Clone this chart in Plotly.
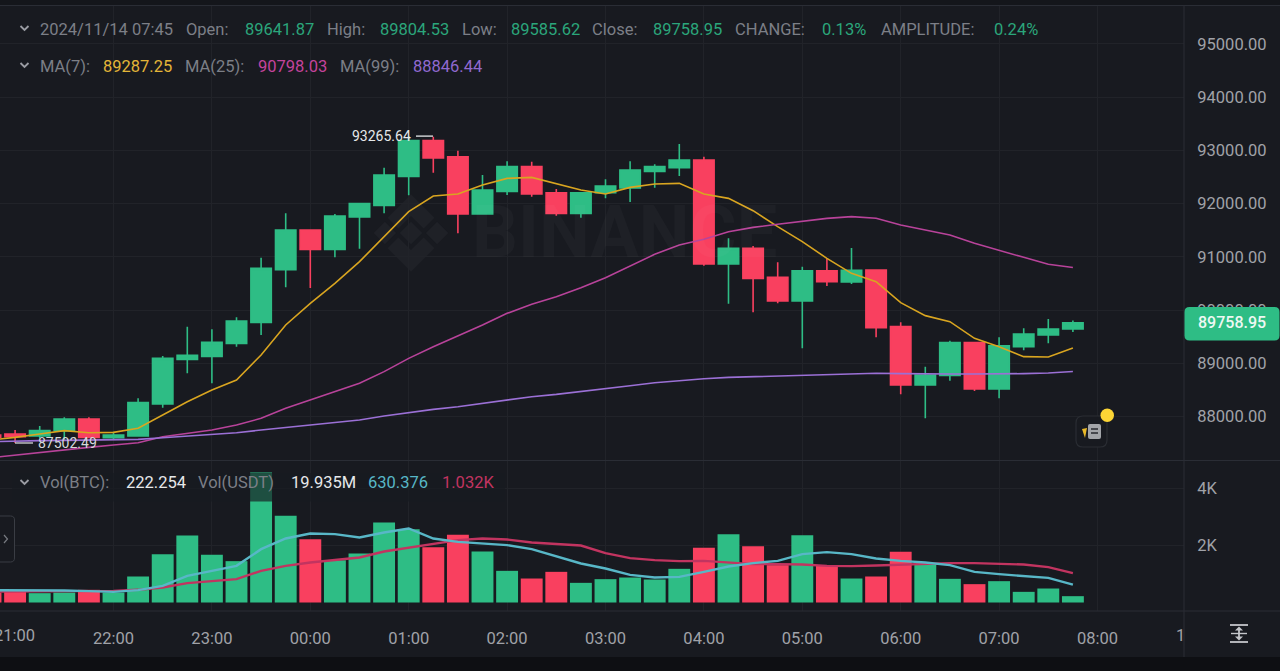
import pandas as pd
import plotly.graph_objects as go

times = pd.date_range("2024-11-13 20:45", periods=45, freq="15min")

open_ = [87650,87671,87633,87734,87953,87602,87633,88234,89073,89130,89374,89768,90757,91502,91139,91746,91965,92510,93180,92879,91803,92228,92692,92203,91815,92203,92291,92604,92673,92817,90864,91158,90613,90169,90738,90526,90751,89687,88592,88773,89387,88517,89312,89531,89641.87]
high = [87670,87746,87821,87984,87984,87715,88341,89136,89687,89637,89862,90983,91815,91502,91803,91997,92673,93265.64,93255,92992,92535,92792,92786,92272,92203,92454,92792,92735,93117,92879,91346,91202,90895,90814,90970,91164,90751,89769,88936,89424,89387,89487,89656,89831,89804.53]
low = [87590,87502.49,87590,87558,87590,87558,87621,88166,88810,88623,89311,89530,90425,90413,90989,91152,91815,92153,92579,91440,91803,92160,92128,91771,91734,92097,92028,92297,92516,90832,90119,89956,90125,89280,90450,90488,89487,88416,87966,88673,88479,88341,89243,89374,89585.62]
close = [87610,87621,87734,87953,87608,87652,88260,89092,89148,89392,89793,90782,91502,91139,91765,91997,92535,93180,92854,91803,92253,92692,92178,91815,92203,92328,92629,92692,92817,90864,91158,90594,90169,90738,90532,90745,89668,88592,88780,89387,88517,89330,89550,89643,89758.95]

ma7 = [87560,87608,87671,87734,87696,87702,87778,88028,88278,88497,88685,89155,89718,90125,90501,90908,91377,91847,92141,92178,92347,92472,92491,92366,92253,92178,92303,92366,92379,92178,92097,91865,91565,91283,90970,90688,90532,90138,89894,89781,89468,89312,89124,89117,89287.25]
ma25 = [87225,87277,87327,87371,87421,87465,87508,87621,87684,87746,87840,87965,88153,88310,88466,88623,88842,89092,89311,89512,89718,89937,90106,90250,90419,90607,90832,91045,91220,91327,91471,91552,91609,91671,91721,91753,91722,91597,91503,91409,91252,91127,90989,90858,90798.03]
ma99 = [87525,87539,87546,87552,87558,87565,87571,87602,87633,87665,87696,87746,87796,87840,87884,87934,88009,88078,88134,88184,88247,88310,88372,88416,88466,88522,88579,88635,88679,88710,88735,88748,88760,88773,88792,88798,88811,88805,88798,88798,88798,88798,88805,88817,88846.44]

volume = [350,374,328,350,445,350,913,1697,2352,1673,1451,4560,3042,2223,1486,1720,2808,2574,1942,2375,1790,1111,842,1076,690,819,877,807,1182,1919,2398,1977,1310,2363,1310,842,913,1778,1334,831,644,749,374,491,222.254]
vol_ma_short = [433,433,433,421,398,374,433,585,936,1111,1287,1872,2246,2422,2398,2281,2457,2597,2246,2129,2083,2012,1872,1615,1369,1193,971,877,901,1076,1264,1381,1462,1696,1767,1696,1544,1462,1404,1310,1076,994,936,866,630.376]
vol_ma_long = [380,386,398,409,409,409,445,526,679,760,819,1111,1287,1404,1486,1579,1790,1930,2047,2188,2246,2211,2106,2059,2000,1732,1556,1486,1451,1462,1404,1345,1345,1334,1287,1275,1299,1334,1369,1381,1381,1369,1334,1240,1032]

hour_ticks = pd.date_range("2024-11-13 22:00", periods=11, freq="1h")
hour_labels = ["22:00","23:00","00:00","01:00","02:00","03:00","04:00","05:00","06:00","07:00","08:00"]
price_ticks = [88000,89000,90000,91000,92000,93000,94000,95000]
vol_ticks = [2000,4000]
vol_tick_labels = ["2K","4K"]

BG = "#181a20"
GRID = "#212329"
SEP = "#2a2d35"
GREEN = "#2ebd85"
RED = "#f9405f"
GRAY = "#7c7f87"
TICK = "#a0a2a8"
TXTGREEN = "#2ba67b"
FONT = "Roboto"
FS = 16.5

L1 = [("2024/11/14 07:45",40,GRAY),("Open:",186,GRAY),("89641.87",245,TXTGREEN),("High:",327,GRAY),("89804.53",380,TXTGREEN),
      ("Low:",462,GRAY),("89585.62",511,TXTGREEN),("Close:",592,GRAY),("89758.95",653,TXTGREEN),("CHANGE:",735,GRAY),
      ("0.13%",822,TXTGREEN),("AMPLITUDE:",881,GRAY),("0.24%",994,TXTGREEN)]
L2 = [("MA(7):",40,GRAY),("89287.25",103,"#e3b538"),("MA(25):",185,GRAY),("90798.03",258,"#c4439c"),("MA(99):",340,GRAY),("88846.44",413,"#9069cf")]
L3 = [("Vol(BTC):",40,GRAY),("222.254",126,"#e6e8ea"),("Vol(USDT)",198,GRAY),("19.935M",291,"#e6e8ea"),("630.376",368,"#58b7c7"),("1.032K",442,"#c23460")]

W, H = 1184.0, 606.0
def px(x): return x / W
def py(y): return (611 - y) / H
def path(points, close=True):
    s = "M" + " L".join(f"{px(x):.5f},{py(y):.5f}" for x, y in points)
    return s + (" Z" if close else "")
def rrect(x0, y0, x1, y1, r):
    P = lambda x, y: f"{px(x):.5f},{py(y):.5f}"
    return (f"M{P(x0+r,y0)} L{P(x1-r,y0)} Q{P(x1,y0)} {P(x1,y0+r)} L{P(x1,y1-r)} Q{P(x1,y1)} {P(x1-r,y1)} "
            f"L{P(x0+r,y1)} Q{P(x0,y1)} {P(x0,y1-r)} L{P(x0,y0+r)} Q{P(x0,y0)} {P(x0+r,y0)} Z")

fig = go.Figure()
fig.add_trace(go.Candlestick(x=times, open=open_, high=high, low=low, close=close, xaxis="x", yaxis="y",
    increasing=dict(line=dict(color=GREEN, width=1.6), fillcolor=GREEN),
    decreasing=dict(line=dict(color=RED, width=1.6), fillcolor=RED),
    whiskerwidth=0, showlegend=False, hoverinfo="skip"))
for vals, col, w in [(ma7, "#d9a520", 1.6), (ma25, "#b8439a", 1.6), (ma99, "#9b70d6", 1.6)]:
    fig.add_trace(go.Scatter(x=times, y=vals, mode="lines", line=dict(color=col, width=w), xaxis="x", yaxis="y",
                             showlegend=False, hoverinfo="skip"))
bar_colors = [GREEN if c >= o else RED for o, c in zip(open_, close)]
fig.add_trace(go.Bar(x=times, y=volume, marker=dict(color=bar_colors, line=dict(width=0)), width=15*60*1000*0.89,
                     xaxis="x", yaxis="y2", showlegend=False, hoverinfo="skip"))
fig.add_trace(go.Scatter(x=times, y=vol_ma_long, mode="lines", line=dict(color="#c23460", width=2.4), xaxis="x", yaxis="y2",
                         showlegend=False, hoverinfo="skip"))
fig.add_trace(go.Scatter(x=times, y=vol_ma_short, mode="lines", line=dict(color="#58b7c7", width=2.4), xaxis="x", yaxis="y2",
                         showlegend=False, hoverinfo="skip"))

shapes = []
shapes.append(dict(type="rect", xref="paper", yref="paper", x0=0, x1=px(1280), y0=py(0), y1=py(5), fillcolor="#14161b", line_width=0, layer="above"))
shapes.append(dict(type="rect", xref="paper", yref="paper", x0=0, x1=px(1280), y0=py(657), y1=py(671), fillcolor="#0e0f13", line_width=0, layer="above"))
for (x0, y0, x1, y1) in [(0,5.5,1280,5.5),(1184,5,1184,657),(0,460.5,1280,460.5),(0,611,1280,611)]:
    shapes.append(dict(type="line", xref="paper", yref="paper", x0=px(x0), x1=px(x1), y0=py(y0), y1=py(y1), line=dict(color=SEP, width=1), layer="above"))
# semi-transparent backing of the volume legend
shapes.append(dict(type="rect", xref="paper", yref="paper", x0=px(12), x1=px(505), y0=py(473), y1=py(501.5), fillcolor="rgba(24,26,32,0.68)", line_width=0, layer="above"))
# watermark logo
WM = "#1f2127"
cx, cy, u = 411, 233, 9
def diamond(x, y, r): return [(x, y-r), (x+r, y), (x, y+r), (x-r, y)]
for d in [diamond(cx, cy, 1.25*u), diamond(cx-2.9*u, cy, 1.25*u), diamond(cx+2.9*u, cy, 1.25*u)]:
    shapes.append(dict(type="path", xref="paper", yref="paper", path=path(d), fillcolor=WM, line_width=0, layer="below"))
for s in (-1, 1):
    chev = [(cx, cy+s*4.3*u), (cx+2.6*u, cy+s*1.7*u), (cx+1.4*u, cy+s*0.5*u), (cx, cy+s*1.9*u), (cx-1.4*u, cy+s*0.5*u), (cx-2.6*u, cy+s*1.7*u)]
    shapes.append(dict(type="path", xref="paper", yref="paper", path=path(chev), fillcolor=WM, line_width=0, layer="below"))
# chevrons in the legend
for yc in (28, 65, 482):
    shapes.append(dict(type="path", xref="paper", yref="paper", path=path([(20.5,yc-2),(24.5,yc+2),(28.5,yc-2)], close=False),
                       line=dict(color="#9a9ca3", width=1.8), layer="above"))
# high / low marker dashes
shapes.append(dict(type="line", xref="paper", yref="y", x0=px(416), x1=px(433), y0=93265.64, y1=93265.64, line=dict(color="#e6e8ea", width=1.3), layer="above"))
shapes.append(dict(type="line", xref="paper", yref="y", x0=px(15), x1=px(33), y0=87502.49, y1=87502.49, line=dict(color="#d6d8da", width=1.3), layer="above"))
# price badge
shapes.append(dict(type="path", xref="paper", yref="paper", path=rrect(1184.5, 307, 1279.5, 340.5, 5), fillcolor=GREEN, line_width=0, layer="above"))
# news icon
shapes.append(dict(type="path", xref="paper", yref="paper", path=rrect(1076, 416, 1107, 447, 7), fillcolor=BG, line=dict(color="#2a2d33", width=1.2), layer="above"))
shapes.append(dict(type="path", xref="paper", yref="paper", path=rrect(1088, 424, 1101, 439, 2), fillcolor="#a2a4a8", line_width=0, layer="above"))
for yy in (429, 433):
    shapes.append(dict(type="line", xref="paper", yref="paper", x0=px(1091), x1=px(1098), y0=py(yy), y1=py(yy), line=dict(color="#26282e", width=1.5), layer="above"))
shapes.append(dict(type="path", xref="paper", yref="paper", path=path([(1082,429),(1087,428),(1085,438)]), fillcolor="#e8b828", line_width=0, layer="above"))
shapes.append(dict(type="circle", xref="paper", yref="paper", x0=px(1100.5), x1=px(1114), y0=py(408.5), y1=py(422), fillcolor="#fcd535", line_width=0, layer="above"))
# left collapse tab
shapes.append(dict(type="path", xref="paper", yref="paper", path=rrect(-6, 516, 14.5, 562, 4), fillcolor=BG, line=dict(color="#3a3d44", width=1), layer="above"))
shapes.append(dict(type="path", xref="paper", yref="paper", path=path([(4,535),(7.5,539),(4,543)], close=False), line=dict(color="#777a80", width=1.2), layer="above"))
# auto-scale icon
for (x0, y0, x1, y1, w) in [(1230,625,1248,625,1.8),(1230,642,1248,642,1.8),(1231,633.5,1247,633.5,1.4),(1239,628,1239,639,1.8)]:
    shapes.append(dict(type="line", xref="paper", yref="paper", x0=px(x0), x1=px(x1), y0=py(y0), y1=py(y1), line=dict(color="#c4c6ca", width=w), layer="above"))
for s in (-1, 1):
    shapes.append(dict(type="path", xref="paper", yref="paper", path=path([(1239,633.5+s*7),(1235,633.5+s*3),(1243,633.5+s*3)]), fillcolor="#c4c6ca", line_width=0, layer="above"))

ann = []
def label(text, x, y, color, size=FS, anchor="left", **kw):
    ann.append(dict(text=text, xref="paper", yref="paper", x=px(x), y=py(y), xanchor=anchor, yanchor="middle", showarrow=False,
                    font=dict(family=FONT, size=size, color=color), borderpad=0, borderwidth=0, **kw))
for seg, yc in ((L1, 29), (L2, 66), (L3, 482.5)):
    for t, x, c in seg:
        label(t, x, yc, c)
ann.append(dict(text="93265.64", xref="paper", yref="y", x=px(412), y=93265.64, xanchor="right", yanchor="middle", showarrow=False,
                font=dict(family=FONT, size=14, color="#e6e8ea"), borderpad=0))
ann.append(dict(text="87502.49", xref="paper", yref="y", x=px(37), y=87502.49, xanchor="left", yanchor="middle", showarrow=False,
                font=dict(family=FONT, size=14, color="#d6d8da"), borderpad=0))
ann.append(dict(text="89758.95", xref="paper", yref="y", x=px(1232), y=89758.95, xanchor="center", yanchor="middle", showarrow=False,
                font=dict(family=FONT, size=16, color="#eef8f3", weight=500), borderpad=0))
label("21:00", 14.6, 635, TICK, anchor="center")
label("1", 1176, 635, TICK)
label("<b>BINANCE</b>", 472, 232, "rgba(255,255,255,0.026)", size=72)

x_start = pd.Timestamp("2024-11-13 22:00") - pd.Timedelta(hours=113.5/98.4)
x_end = x_start + pd.Timedelta(hours=1184/98.4)

fig.update_layout(
    width=1280, height=671, autosize=False,
    margin=dict(l=0, r=96, t=5, b=60, pad=0),
    paper_bgcolor=BG, plot_bgcolor=BG,
    font=dict(family=FONT, size=FS, color=TICK),
    boxmode="group", boxgap=0.17, boxgroupgap=0, bargap=0.1, showlegend=False, hovermode=False,
    xaxis=dict(domain=[0, 1], range=[x_start, x_end], anchor="y2", rangeslider=dict(visible=False), type="date",
               tickmode="array", tickvals=list(hour_ticks), ticktext=hour_labels, showgrid=True, gridcolor=GRID, gridwidth=1,
               zeroline=False, showline=False, ticks="outside", ticklen=12, tickcolor="rgba(0,0,0,0)",
               tickfont=dict(family=FONT, size=FS, color=TICK)),
    yaxis=dict(domain=[(611-460)/H, 1], range=[87183, 95728], side="right", anchor="x", tickmode="array", tickvals=price_ticks,
               tickformat=".2f", showgrid=True, gridcolor=GRID, zeroline=False, showline=False,
               ticks="outside", ticklen=9, tickcolor="rgba(0,0,0,0)", tickfont=dict(family=FONT, size=FS, color=TICK)),
    yaxis2=dict(domain=[0, (611-461)/H], range=[-298, 4965], side="right", anchor="x", tickmode="array", tickvals=vol_ticks,
                ticktext=vol_tick_labels, showgrid=True, gridcolor=GRID, zeroline=False, showline=False,
                ticks="outside", ticklen=9, tickcolor="rgba(0,0,0,0)", tickfont=dict(family=FONT, size=FS, color=TICK)),
    shapes=shapes, annotations=ann,
)

fig.write_html("out.html", config=dict(displayModeBar=False),
               post_script="document.body.style.margin='0';document.documentElement.style.overflow='hidden';")
